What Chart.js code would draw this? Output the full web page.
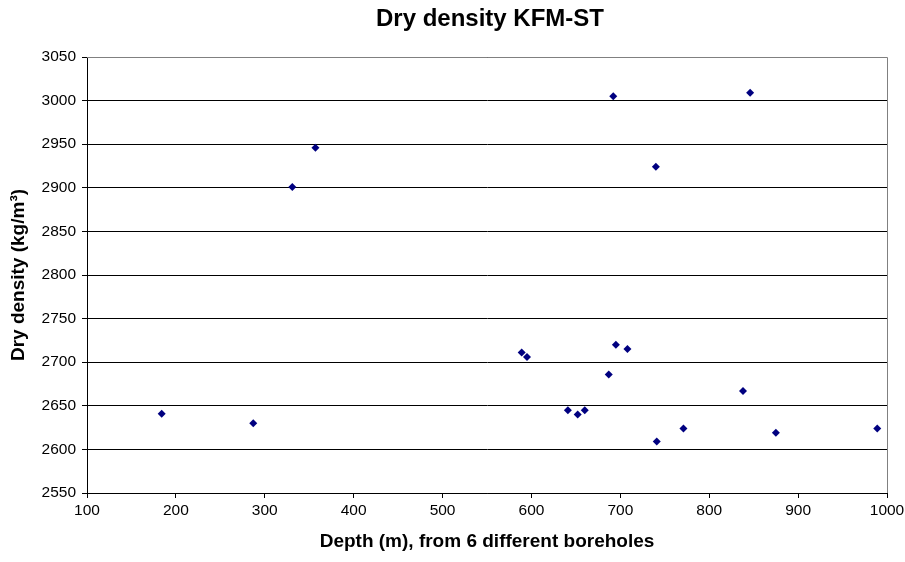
<!DOCTYPE html>
<html>
<head>
<meta charset="utf-8">
<script src="https://cdn.jsdelivr.net/npm/chart.js@4"></script>
<style>
  html, body { margin: 0; padding: 0; background: #fff; }
  canvas { display: block; }
</style>
</head>
<body>
<canvas id="chart" width="905" height="562"></canvas>
<script>
// depth (m) and dry density (kg/m3)
const depths = [184, 287, 331, 357, 589, 595, 641, 652, 660, 687, 692, 695, 708, 740, 741, 771, 838, 846, 875, 989];
const densities = [2641, 2630, 2901, 2946, 2711, 2706, 2645, 2640, 2645, 2686, 3005, 2720, 2715, 2924, 2609, 2624, 2667, 3009, 2619, 2624];

const xTicks = [100, 200, 300, 400, 500, 600, 700, 800, 900, 1000];
const yTicks = [2550, 2600, 2650, 2700, 2750, 2800, 2850, 2900, 2950, 3000, 3050];

const chartTitle = 'Dry density KFM-ST';

const points = depths.map((d, i) => ({ x: d, y: densities[i] }));

const font = 'Liberation Sans, Arial, sans-serif';

// gray frame on top and right of plot area, title centred over the plot area
const frame = {
  id: 'frame',
  afterDraw(chart) {
    const a = chart.chartArea;
    const ctx = chart.ctx;
    ctx.save();
    ctx.strokeStyle = '#808080';
    ctx.lineWidth = 1;
    ctx.beginPath();
    ctx.moveTo(a.left, a.top + 0.5);
    ctx.lineTo(a.right + 0.5, a.top + 0.5);
    ctx.lineTo(a.right + 0.5, a.bottom);
    ctx.stroke();

    ctx.fillStyle = '#000';
    ctx.font = 'bold 24px ' + font;
    ctx.textAlign = 'center';
    ctx.textBaseline = 'middle';
    ctx.fillText(chartTitle, (a.left + a.right) / 2 + 3, 19);
    ctx.restore();
  }
};

new Chart(document.getElementById('chart'), {
  type: 'scatter',
  data: {
    datasets: [{
      label: 'Dry density',
      data: points,
      pointStyle: 'rectRot',
      pointRadius: 4,
      pointHoverRadius: 4,
      backgroundColor: '#000080',
      borderColor: '#000080',
      borderWidth: 0
    }]
  },
  options: {
    responsive: false,
    animation: false,
    layout: { padding: { left: 0, right: 18, top: 57, bottom: 0 } },
    plugins: {
      legend: { display: false },
      tooltip: { enabled: false },
      title: { display: false }
    },
    scales: {
      x: {
        type: 'linear',
        min: 100,
        max: 1000,
        afterBuildTicks: s => { s.ticks = xTicks.map(v => ({ value: v })); },
        afterFit: s => { s.height = 69; s.paddingRight = 0; s.paddingLeft = 0; },
        ticks: { color: '#000', font: { family: font, size: 15.5 }, padding: 3, maxRotation: 0, callback: v => String(v) },
        grid: { drawOnChartArea: false, drawTicks: true, tickLength: 5, color: '#000' },
        border: { color: '#000' },
        title: {
          display: true,
          text: 'Depth (m), from 6 different boreholes',
          color: '#000',
          font: { family: font, size: 19, weight: 'bold' },
          padding: { top: 4, bottom: 9 }
        }
      },
      y: {
        type: 'linear',
        min: 2550,
        max: 3050,
        afterBuildTicks: s => { s.ticks = yTicks.map(v => ({ value: v })); },
        afterFit: s => { s.width = 87; },
        ticks: { color: '#000', font: { family: font, size: 15.5 }, padding: 6, callback: v => String(v) },
        grid: { color: '#000', drawTicks: true, tickLength: 5 },
        border: { color: '#000' },
        title: {
          display: true,
          text: 'Dry density (kg/m³)',
          color: '#000',
          font: { family: font, size: 19, weight: 'bold' },
          padding: { top: 7, bottom: 4 }
        }
      }
    }
  },
  plugins: [frame]
});
</script>
</body>
</html>
